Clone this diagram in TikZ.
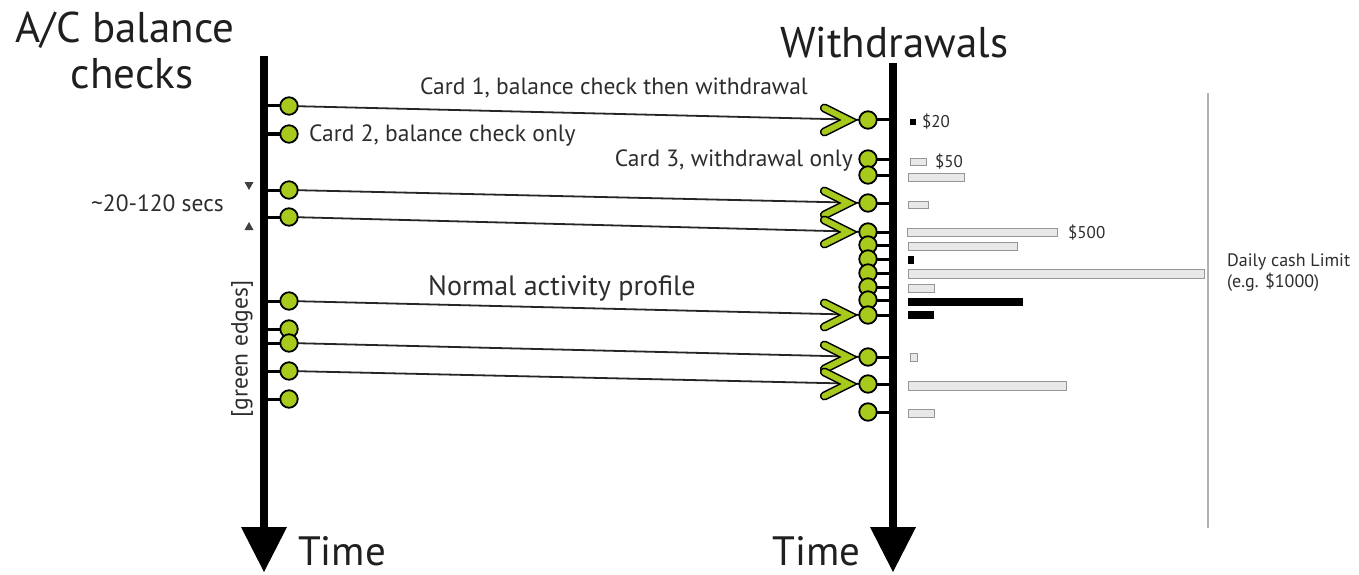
\documentclass[tikz,border=0pt]{standalone}
\usepackage{fontspec}
\setmainfont{PT Sans}
\usetikzlibrary{calc}
\pgfdeclarelayer{bg}
\pgfdeclarelayer{paper}
\pgfsetlayers{paper,bg,main}
\definecolor{lime}{RGB}{168,202,28}
\definecolor{txt}{RGB}{45,45,45}
\definecolor{barfill}{RGB}{232,232,232}
\definecolor{baredge}{RGB}{150,150,150}
\tikzset{
  dot/.style={circle,draw=black,line width=1.8pt,fill=lime,minimum size=17.5pt,inner sep=0pt},
  tickline/.style={line width=3pt,black},
  conn/.style={line width=1.8pt,black!85},
  timeline/.style={line width=8pt,black},
  titletext/.style={font=\fontsize{43}{48}\selectfont,text=black!88,inner sep=0pt},
  timetext/.style={font=\fontsize{41}{46}\selectfont,text=black!88,inner sep=0pt},
  lbl/.style={font=\fontsize{23.5}{27}\selectfont,text=txt,inner sep=0pt},
  biglbl/.style={font=\fontsize{28}{32}\selectfont,text=txt,inner sep=0pt},
  smalltext/.style={font=\fontsize{17}{20}\selectfont,text=txt,inner sep=0pt},
  limittext/.style={font=\fontsize{18}{21}\selectfont,text=txt,inner sep=0pt},
  graybar/.style={draw=baredge,fill=barfill,line width=0.8pt},
  blackbar/.style={fill=black},
  chevron/.pic={
    \draw[line width=9pt,line cap=round,line join=miter,black] (-34,-12)--(-10,0)--(-34,12);
    \draw[line width=5.8pt,line cap=round,line join=miter,lime] (-34,-12)--(-10,0)--(-34,12);
  }
}
\begin{document}
\begin{tikzpicture}[x=1pt,y=-1pt]
\begin{pgfonlayer}{paper}
\fill[white] (0,0) rectangle (1359,575);
\end{pgfonlayer}
\useasboundingbox (0,0) rectangle (1359,575);

% timelines
\coordinate (tlL) at (264,56);
\coordinate (tbL) at (264,527);
\coordinate (tlR) at (893,63);
\coordinate (tbR) at (893,527);
\draw[timeline] (tlL) -- (tbL);
\fill (tbL) ++(-23,0) -- ++(46,0) -- ++(-23,45) -- cycle;
\draw[timeline] (tlR) -- (tbR);
\fill (tbR) ++(-23,0) -- ++(46,0) -- ++(-23,45) -- cycle;

% left circles
\foreach \n/\y in {1/106,2/134,3/190,4/217,5/301,6/329,7/343,8/371,9/399}{
  \node[dot] (L\n) at (289,\y) {};
}
% right circles
\foreach \n/\y in {1/120,2/159,3/175,4/203,5/232,6/245,7/259,8/273,9/287,10/300,11/315,12/357,13/384,14/412}{
  \node[dot] (R\n) at (868,\y) {};
}

\begin{pgfonlayer}{bg}
  \foreach \n in {1,...,9}{\draw[tickline] (L\n.center) -- (L\n.center -| tlL);}
  \foreach \n in {1,...,14}{\draw[tickline] (R\n.center) -- (R\n.center -| tlR);}
  \foreach \a/\b in {1/1,3/4,4/5,5/11,7/12,8/13}{
    \draw[conn] (L\a.center) -- (R\b.center);
  }
  \foreach \b in {1,4,5,11,12,13}{
    \pic at (R\b.west) {chevron};
  }
\end{pgfonlayer}

% interval marks
\fill[black!75] (244.5,182) -- (253.5,182) -- (249,190) -- cycle;
\fill[black!75] (244.5,230) -- (253.5,230) -- (249,222) -- cycle;

% titles
\node[titletext,anchor=base] (tA) at (125,43) {A/C balance};
\node[titletext,anchor=base] (tB) at (132,89) {checks};
\node[titletext,anchor=base west] (tW) at (780,58) {Withdrawals};
\node[timetext,anchor=base west] (tT1) at (298,565) {Time};
\node[timetext,anchor=base east] (tT2) at (861,565) {Time};

% labels
\node[lbl,anchor=base west] (c1) at (420,95) {Card 1, balance check then withdrawal};
\node[lbl,anchor=base west] (c2) at (309,142) {Card 2, balance check only};
\node[lbl,anchor=base east] (c3) at (853,166) {Card 3, withdrawal only};
\node[lbl,anchor=base east] (secs) at (224,211) {\textasciitilde 20-120 secs};
\node[biglbl,anchor=base west] (nap) at (428,295) {Normal activity profile};
\node[lbl,rotate=90] (ge) at (242,349) {[green edges]};

% bars
\fill[blackbar] (910,119) rectangle (916,125);
\draw[graybar] (910,158) rectangle (926,165);
\draw[graybar] (908,173) rectangle (964,181);
\draw[graybar] (908,201) rectangle (928,208);
\draw[graybar] (907,228) rectangle (1057,236);
\draw[graybar] (908,242) rectangle (1017,250);
\fill[blackbar] (908,256) rectangle (914,264);
\draw[graybar] (908,269) rectangle (1204,278);
\draw[graybar] (908,284) rectangle (934,292);
\fill[blackbar] (908,298) rectangle (1023,306);
\fill[blackbar] (908,311) rectangle (934,319);
\draw[graybar] (910,353) rectangle (917,361);
\draw[graybar] (908,381) rectangle (1066,390);
\draw[graybar] (908,409) rectangle (934,417);

\node[smalltext,anchor=base west] (v20) at (922,128) {\$20};
\node[smalltext,anchor=base west] (v50) at (935,167) {\$50};
\node[smalltext,anchor=base west] (v500) at (1068,238) {\$500};

% limit line
\coordinate (limT) at (1208,93);
\coordinate (limB) at (1208,528);
\draw[line width=1.8pt,black!30] (limT) -- (limB);
\node[limittext,anchor=base west] (dl1) at (1227,266) {Daily cash Limit};
\node[limittext,anchor=base west] (dl2) at (1227,287) {(e.g. \$1000)};
\end{tikzpicture}
\end{document}
